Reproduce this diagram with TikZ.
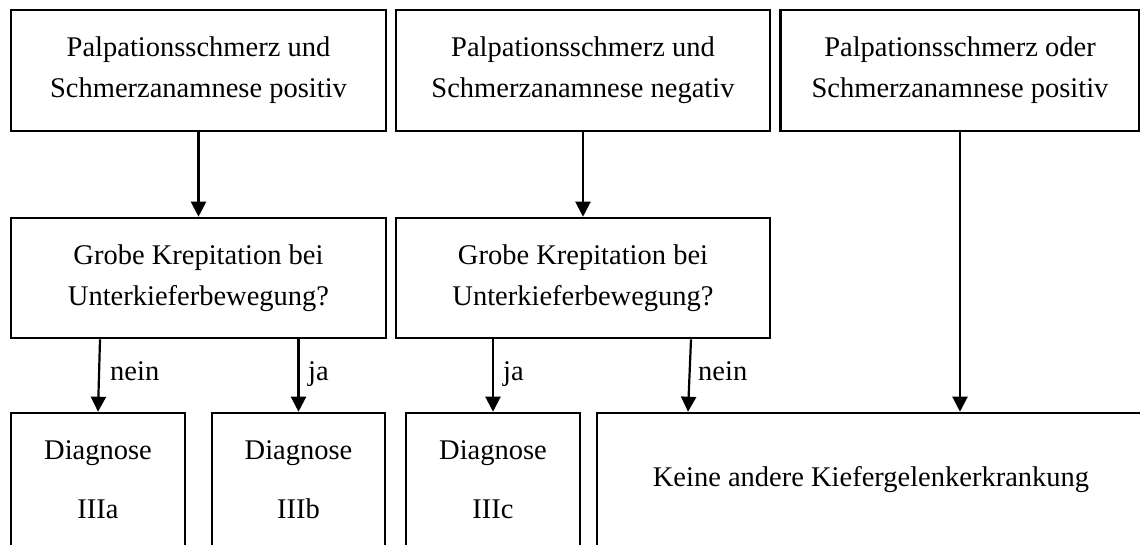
\documentclass[tikz,border=0pt]{standalone}
\usepackage{fontspec}
\setmainfont{Liberation Serif}
\usetikzlibrary{arrows.meta}
\tikzset{
  box/.style={draw=black, line width=2.6pt, fill=white, inner sep=0pt, align=center,
    font={\fontsize{28.5}{41}\selectfont}},
  diagbox/.style={box, font={\fontsize{28.5}{59}\selectfont}},
  arr/.style={line width=2.2pt, -{Triangle[width=15pt,length=15pt]}},
  lbl/.style={anchor=base west, inner sep=0pt, font={\fontsize{28.5}{32}\selectfont}}
}
\begin{document}
\begin{tikzpicture}[x=1pt,y=-1pt]
\useasboundingbox (0,0) rectangle (1140,544);
\clip (0,0) rectangle (1140,544);
\fill[white] (0,0) rectangle (1140,544);
% top row
\node[box, minimum width=375pt, minimum height=121pt] (t1) at (198.5,70.5) {Palpationsschmerz und\\Schmerzanamnese positiv};
\node[box, minimum width=374pt, minimum height=121pt] (t2) at (583,70.5) {Palpationsschmerz und\\Schmerzanamnese negativ};
\node[box, minimum width=359pt, minimum height=121pt] (t3) at (960,70.5) {Palpationsschmerz oder\\Schmerzanamnese positiv};
% middle row
\node[box, minimum width=375pt, minimum height=120pt] (m1) at (198.5,278) {Grobe Krepitation bei\\Unterkieferbewegung?};
\node[box, minimum width=374pt, minimum height=120pt] (m2) at (583,278) {Grobe Krepitation bei\\Unterkieferbewegung?};
% bottom row
\node[diagbox, minimum width=174pt, minimum height=134pt] (da) at (98,480) {Diagnose\\IIIa};
\node[diagbox, minimum width=173pt, minimum height=134pt] (db) at (298.5,480) {Diagnose\\IIIb};
\node[diagbox, minimum width=174pt, minimum height=134pt] (dc) at (493,480) {Diagnose\\IIIc};
\node[box, minimum width=548pt, minimum height=134pt] (k) at (871,480) {Keine andere Kiefergelenkerkrankung};
% connectors
\draw[arr] (t1.south) -- (t1.south |- m1.north);
\draw[arr] (t2.south) -- (t2.south |- m2.north);
\coordinate (kr) at ([xshift=89pt]k.north);
\draw[arr] (t3.south) -- (kr);
\draw[arr] ([xshift=2pt]m1.south -| da.north) -- (da.north);
\draw[arr] (m1.south -| db.north) -- (db.north);
\draw[arr] (m2.south -| dc.north) -- (dc.north);
\coordinate (kin) at ([xshift=-183pt]k.north);
\draw[arr] ([xshift=3pt]m2.south -| kin) -- (kin);
% labels
\node[lbl] (l1) at (110,380) {nein};
\node[lbl] (l2) at (308,380) {ja};
\node[lbl] (l3) at (503,380) {ja};
\node[lbl] (l4) at (698,380) {nein};
\end{tikzpicture}
\end{document}
